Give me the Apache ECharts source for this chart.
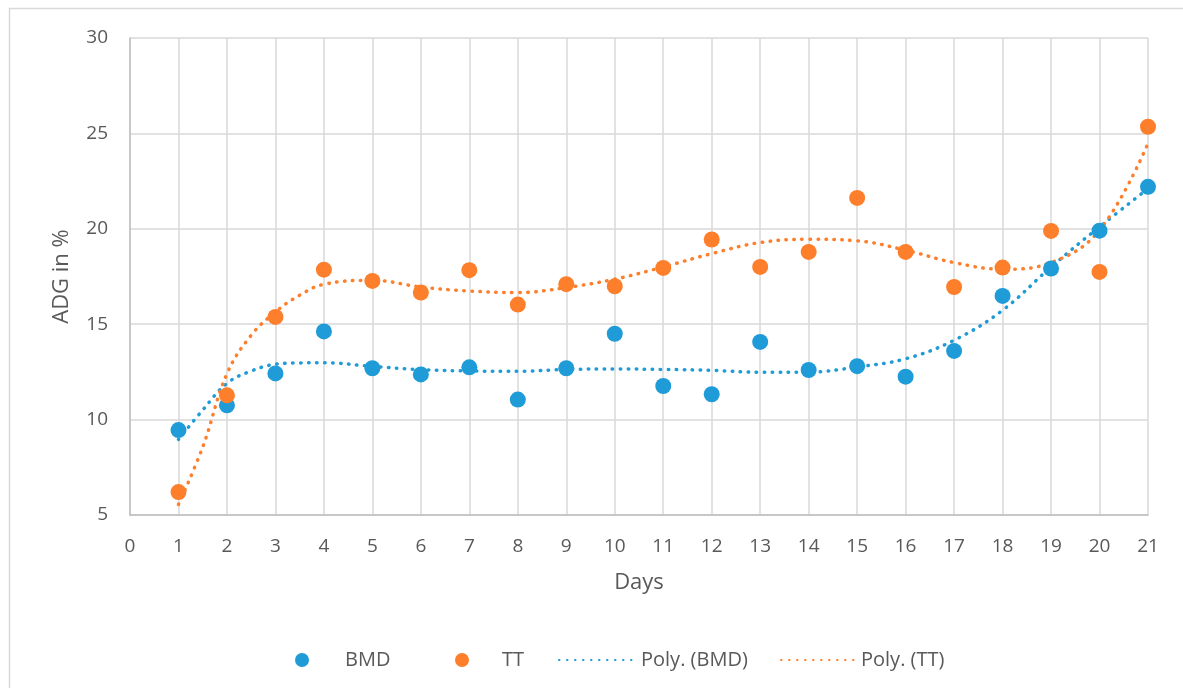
<!DOCTYPE html>
<html lang="en">
<head>
  <meta charset="UTF-8">
  <title>ADG in % - BMD vs TT</title>
  <script src="https://cdn.jsdelivr.net/npm/echarts@6/dist/echarts.min.js"></script>
  <style>
    body { margin: 0; background: #fff; }
    #chart { width: 1183px; height: 688px; }
  </style>
</head>
<body>
  <div id="chart"></div>
  <script>
    // days 1..21
    const days = [1, 2, 3, 4, 5, 6, 7, 8, 9, 10, 11, 12, 13, 14, 15, 16, 17, 18, 19, 20, 21];
    const bmd = [9.45, 10.75, 12.42, 14.62, 12.69, 12.37, 12.74, 11.05, 12.69, 14.5, 11.76,
                 11.33, 14.07, 12.6, 12.8, 12.25, 13.6, 16.48, 17.92, 19.9, 22.2];
    const tt = [6.2, 11.27, 15.38, 17.86, 17.27, 16.66, 17.83, 16.03, 17.1, 16.99, 17.95,
                19.44, 18.0, 18.79, 21.62, 18.79, 16.95, 17.97, 19.89, 17.74, 25.35];

    // trend curves
    const trendDays = [1, 1.5, 2, 2.5, 3, 3.5, 4, 5, 6, 7, 8, 9, 10, 11, 12, 13, 14, 15, 16, 17, 18, 19, 20, 21];
    const polyBmd = [8.96, 10.5, 11.9, 12.55, 12.9, 12.97, 12.98, 12.79, 12.62, 12.55, 12.53, 12.63,
                     12.65, 12.63, 12.58, 12.48, 12.49, 12.76, 13.19, 14.16, 15.73, 18.0, 20.1, 22.1];
    const polyTt = [5.55, 8.56, 12.4, 14.42, 15.64, 16.52, 17.09, 17.3, 16.95, 16.74, 16.66, 16.92,
                    17.36, 18.0, 18.7, 19.28, 19.45, 19.37, 18.88, 18.23, 17.88, 18.23, 19.93, 24.48];

    const blue = '#1f9bd7';
    const orange = '#fd7f2b';
    const textColor = '#595959';
    const font = '"Open Sans", "Noto Sans", sans-serif';

    const chart = echarts.init(document.getElementById('chart'));

    // no marker on the trendline legend icons
    const noMarker = { color: 'rgba(0,0,0,0)', borderWidth: 0, opacity: 0 };

    // one legend per entry so each can sit where the reference puts it
    function legendAt(name, left, iconW, iconH, textPad, itemStyle) {
      const item = itemStyle ? { name: name, itemStyle: itemStyle } : name;
      return {
        left: left,
        top: 645,
        itemWidth: iconW,
        itemHeight: iconH,
        textStyle: { fontSize: 20, color: textColor, fontFamily: font, padding: [0, 0, 0, textPad] },
        data: [item]
      };
    }

    const option = {
      backgroundColor: '#fff',
      textStyle: { fontFamily: font, color: textColor },
      animation: false,
      graphic: [{
        type: 'rect',
        shape: { x: 9.5, y: 8.5, width: 1190, height: 700 },
        style: { fill: 'none', stroke: '#d9d9d9', lineWidth: 1.5 },
        silent: true
      }],
      grid: { left: 130, right: 35, top: 38, bottom: 173 },
      xAxis: {
        type: 'value',
        min: 0, max: 21, interval: 1,
        name: 'Days',
        nameLocation: 'middle',
        nameGap: 57,
        nameTextStyle: { fontSize: 22, color: textColor, fontFamily: font },
        axisLine: { lineStyle: { color: '#bfbfbf', width: 1.5 } },
        axisTick: { show: false },
        axisLabel: { fontSize: 19, color: textColor, margin: 22, fontFamily: font },
        splitLine: { lineStyle: { color: '#d9d9d9', width: 1.5 } }
      },
      yAxis: {
        type: 'value',
        min: 5, max: 30, interval: 5,
        name: 'ADG in %',
        nameLocation: 'middle',
        nameRotate: 90,
        nameGap: 57,
        nameTextStyle: { fontSize: 22, color: textColor, fontFamily: font },
        axisLine: { show: true, lineStyle: { color: '#bfbfbf', width: 1.5 } },
        axisTick: { show: false },
        axisLabel: { fontSize: 19, color: textColor, margin: 22, fontFamily: font },
        splitLine: { lineStyle: { color: '#d9d9d9', width: 1.5 } }
      },
      legend: [
        legendAt('BMD', 290, 14, 14, 31),
        legendAt('TT', 450, 14, 14, 28),
        legendAt('Poly. (BMD)', 553, 77, 14, 0, noMarker),
        legendAt('Poly. (TT)', 775, 75, 14, 0, noMarker)
      ],
      series: [
        {
          name: 'Poly. (BMD)',
          type: 'line',
          smooth: 0.4,
          symbol: 'none',
          data: trendDays.map((d, i) => [d, polyBmd[i]]),
          lineStyle: { color: blue, width: 3.5, type: [0.5, 7.5], cap: 'round' },
          itemStyle: { color: blue },
          z: 3
        },
        {
          name: 'Poly. (TT)',
          type: 'line',
          smooth: 0.4,
          symbol: 'none',
          data: trendDays.map((d, i) => [d, polyTt[i]]),
          lineStyle: { color: orange, width: 3.5, type: [0.5, 7.5], cap: 'round' },
          itemStyle: { color: orange },
          z: 3
        },
        {
          name: 'BMD',
          type: 'scatter',
          symbol: 'circle',
          symbolSize: 16,
          data: days.map((d, i) => [d, bmd[i]]),
          itemStyle: { color: blue, opacity: 1 },
          z: 4
        },
        {
          name: 'TT',
          type: 'scatter',
          symbol: 'circle',
          symbolSize: 16,
          data: days.map((d, i) => [d, tt[i]]),
          itemStyle: { color: orange, opacity: 1 },
          z: 4
        }
      ]
    };

    chart.setOption(option);
  </script>
</body>
</html>
